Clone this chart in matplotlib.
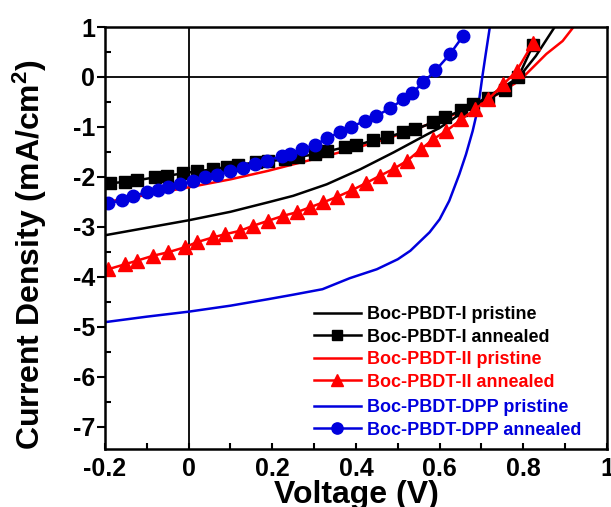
import matplotlib
matplotlib.use("Agg")
import matplotlib.pyplot as plt
from matplotlib.ticker import MultipleLocator

plt.rcParams['font.family'] = ['Liberation Sans', 'DejaVu Sans']
plt.rcParams['font.weight'] = 'bold'
plt.rcParams['axes.unicode_minus'] = False
plt.rcParams['mathtext.fontset'] = 'custom'
plt.rcParams['mathtext.rm'] = 'Liberation Sans:bold'
plt.rcParams['mathtext.bf'] = 'Liberation Sans:bold'
plt.rcParams['mathtext.it'] = 'Liberation Sans:bold'

# Boc-PBDT-I
v_i_pristine = [-0.2, -0.1, 0.0, 0.1, 0.19, 0.25, 0.33, 0.41, 0.49, 0.57, 0.60, 0.672, 0.74, 0.79, 0.83, 0.875]
j_i_pristine = [-3.17, -3.02, -2.87, -2.70, -2.51, -2.38, -2.15, -1.85, -1.51, -1.15, -1.02, -0.61, -0.27, 0.0, 0.42, 1.0]
v_i_annealed = [-0.188, -0.152, -0.124, -0.080, -0.052, -0.013, 0.019, 0.059, 0.091, 0.119, 0.162, 0.190,
                0.230, 0.262, 0.302, 0.330, 0.373, 0.401, 0.441, 0.473, 0.513, 0.541, 0.585, 0.612,
                0.652, 0.680, 0.716, 0.756, 0.788, 0.824]
j_i_annealed = [-2.13, -2.10, -2.07, -2.01, -1.98, -1.93, -1.89, -1.85, -1.80, -1.76, -1.71, -1.69,
                -1.65, -1.60, -1.55, -1.49, -1.41, -1.37, -1.27, -1.21, -1.11, -1.05, -0.91, -0.81,
                -0.67, -0.55, -0.43, -0.27, 0.0, 0.65]

# Boc-PBDT-II
v_ii_pristine = [-0.2, -0.1, 0.0, 0.1, 0.19, 0.25, 0.33, 0.40, 0.45, 0.50, 0.58, 0.65, 0.72, 0.78, 0.80, 0.855, 0.894, 0.92]
j_ii_pristine = [-2.51, -2.36, -2.21, -2.05, -1.88, -1.75, -1.58, -1.42, -1.30, -1.16, -0.93, -0.70, -0.44, -0.13, 0.0, 0.46, 0.72, 1.0]
v_ii_annealed = [-0.192, -0.152, -0.124, -0.085, -0.049, -0.009, 0.019, 0.059, 0.087, 0.123, 0.154, 0.190,
                 0.226, 0.258, 0.290, 0.322, 0.355, 0.390, 0.425, 0.457, 0.490, 0.522, 0.555, 0.584,
                 0.616, 0.652, 0.684, 0.716, 0.752, 0.784, 0.824]
j_ii_annealed = [-3.85, -3.75, -3.68, -3.58, -3.51, -3.41, -3.31, -3.21, -3.15, -3.08, -2.98, -2.88,
                 -2.78, -2.71, -2.61, -2.51, -2.40, -2.27, -2.12, -1.98, -1.84, -1.68, -1.45, -1.25,
                 -1.08, -0.85, -0.65, -0.45, -0.15, 0.12, 0.69]

# Boc-PBDT-DPP
v_dpp_pristine = [-0.2, -0.1, 0.0, 0.1, 0.19, 0.25, 0.32, 0.385, 0.45, 0.50, 0.53, 0.576, 0.60, 0.623,
                  0.647, 0.663, 0.679, 0.692, 0.702, 0.710, 0.72]
j_dpp_pristine = [-4.91, -4.80, -4.70, -4.58, -4.45, -4.36, -4.25, -4.03, -3.85, -3.65, -3.48, -3.11, -2.85, -2.48,
                  -1.95, -1.55, -1.08, -0.61, 0.0, 0.45, 1.0]
v_dpp_annealed = [-0.192, -0.160, -0.132, -0.100, -0.073, -0.049, -0.021, 0.011, 0.039, 0.067, 0.099, 0.130,
                  0.158, 0.188, 0.222, 0.242, 0.270, 0.302, 0.330, 0.361, 0.389, 0.421, 0.449, 0.481,
                  0.513, 0.533, 0.561, 0.590, 0.624, 0.656]
j_dpp_annealed = [-2.53, -2.47, -2.38, -2.31, -2.27, -2.21, -2.15, -2.09, -2.01, -1.96, -1.89, -1.83,
                  -1.75, -1.68, -1.58, -1.55, -1.45, -1.36, -1.23, -1.11, -1.00, -0.88, -0.78, -0.63,
                  -0.45, -0.33, -0.11, 0.13, 0.45, 0.82]

labels = ['Boc-PBDT-I pristine', 'Boc-PBDT-I annealed',
          'Boc-PBDT-II pristine', 'Boc-PBDT-II annealed',
          'Boc-PBDT-DPP pristine', 'Boc-PBDT-DPP annealed']
colors = ['black', 'black', 'red', 'red', '#0000dd', '#0000dd']

fig = plt.figure(figsize=(6.11, 5.07), dpi=100)
ax = fig.add_axes([0.1718, 0.1144, 0.8216, 0.8323])

ax.axhline(0, color='black', lw=1.3, zorder=1)
ax.axvline(0, color='black', lw=1.3, zorder=1)

h1, = ax.plot(v_i_pristine, j_i_pristine, color=colors[0], lw=1.8)
h3, = ax.plot(v_ii_pristine, j_ii_pristine, color=colors[2], lw=1.8)
h5, = ax.plot(v_dpp_pristine, j_dpp_pristine, color=colors[4], lw=1.8)
h2, = ax.plot(v_i_annealed, j_i_annealed, color=colors[1], lw=1.8, marker='s', ms=8.5)
h4, = ax.plot(v_ii_annealed, j_ii_annealed, color=colors[3], lw=1.8, marker='^', ms=9.5)
h6, = ax.plot(v_dpp_annealed, j_dpp_annealed, color=colors[5], lw=1.8, marker='o', ms=9)

ax.set_xlim(-0.2, 1.0)
ax.set_ylim(-7.45, 1.0)
ax.xaxis.set_minor_locator(MultipleLocator(0.1))
ax.yaxis.set_major_locator(MultipleLocator(1))
ax.yaxis.set_minor_locator(MultipleLocator(0.5))
ax.set_xticks([-0.2, 0, 0.2, 0.4, 0.6, 0.8, 1.0])
ax.set_xticklabels(['-0.2', '0', '0.2', '0.4', '0.6', '0.8', '1'])

ax.tick_params(axis='y', which='major', direction='out', length=6, width=1.5, pad=1, labelsize=18)
ax.tick_params(axis='y', which='minor', direction='in', length=4, width=1.5)
ax.tick_params(axis='x', which='major', direction='in', length=4, width=1.5, pad=6, labelsize=18)
ax.tick_params(axis='x', which='minor', direction='in', length=4, width=1.5)
for s in ax.spines.values():
    s.set_linewidth(1.8)

ax.set_xlabel('Voltage (V)', fontsize=23, fontweight='bold', labelpad=-1)
ax.set_ylabel('Current Density (mA/cm$^2$)', fontsize=23, fontweight='bold', labelpad=17, y=0.461)

leg_kw = dict(loc='upper left', frameon=False, prop={'size': 13, 'weight': 'bold'},
              handlelength=2.6, handletextpad=0.35, labelspacing=0.3, numpoints=1,
              borderpad=0, borderaxespad=0, markerscale=0.9)
leg1 = ax.legend([h1, h2, h3, h4], labels[:4], bbox_to_anchor=(0.416, 0.338),
                 labelcolor=colors[:4], **leg_kw)
ax.add_artist(leg1)
ax.legend([h5, h6], labels[4:], bbox_to_anchor=(0.416, 0.118),
          labelcolor=colors[4:], **leg_kw)

fig.savefig('out.png', dpi=100)
